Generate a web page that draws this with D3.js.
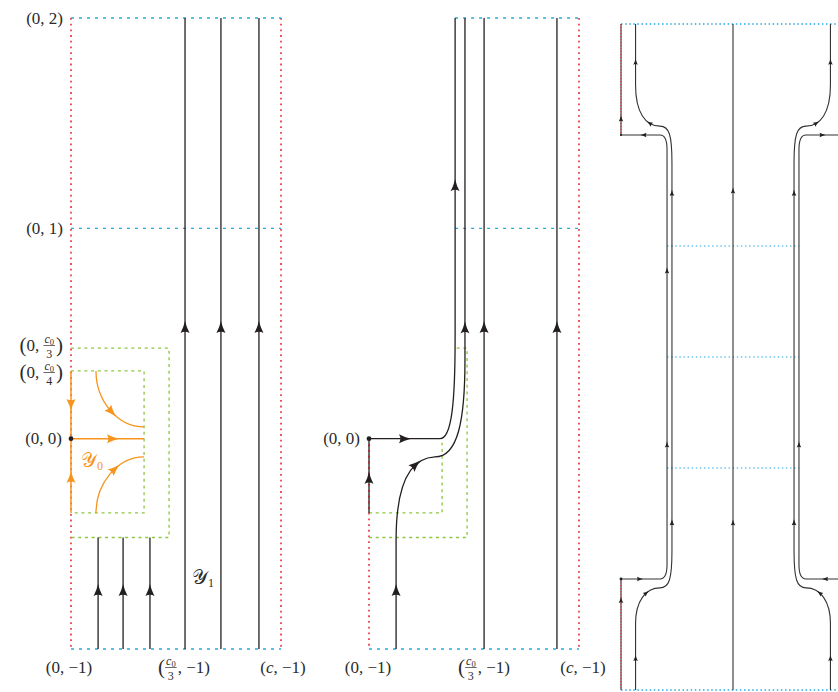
<!DOCTYPE html>
<html>
<head>
<meta charset="utf-8">
<script src="https://cdn.jsdelivr.net/npm/d3@7"></script>
<style>body{margin:0;background:#fff}</style>
</head>
<body>
<div id="fig"></div>
<script>
// ---- data (left and middle panels: x in units of c, y from -1 to 2) ----
var leftFullX  = [0.543, 0.714, 0.895];
var leftShortX = [0.129, 0.248, 0.376];
var fullArrowY  = 0.53;
var shortArrowY = -0.72;
var boxOuter = {x: 0.467, top: 0.43,  bottom: -0.47};
var boxInner = {x: 0.348, top: 0.322, bottom: -0.353};

var orangeUpper = [["M",0.119,0.322],["C",0.119,0.184,0.219,0.056,0.348,0.056]];
var orangeLower = [["M",0.119,-0.353],["C",0.119,-0.216,0.219,-0.087,0.348,-0.087]];
var orangeAxisV = [["M",0,0.322],["L",0,-0.353]];
var orangeAxisH = [["M",0,0],["L",0.348,0]];
// arrows: [path, x, y, reversed]
var orangeArrows = [["V",0,0.16,false],["V",0,-0.182,true],["H",0.2,0,false],["U",0.195,0.127,false],["D",0.195,-0.125,false]];

var midFullX = [0.548, 0.895];
var midPathA = [["M",0,0],["L",0.338,0],["C",0.395,0,0.41,0.184,0.41,0.469],["L",0.41,2]];
var midPathB = [["M",0.129,-1],["L",0.129,-0.482],["C",0.129,-0.197,0.205,-0.092,0.314,-0.087],
                ["C",0.424,-0.087,0.457,0.089,0.457,0.374],["L",0.457,2]];
var midSeg   = [["M",0,-0.353],["L",0,0]];
var midArrows = [["A",0.171,0],["A",0.41,1.205],["B",0.129,-0.72],["B",0.233,-0.135],["B",0.457,fullArrowY],["S",0,-0.187]];

// ---- data (right panel: x from -1 to 1, y from 0 to 6) ----
var rightGridY = [2, 3, 4];
var rightL1 = [["M",-1,0],["L",-1,1],["L",-0.652,1],["C",-0.615,1,-0.589,1.03,-0.589,1.13],["L",-0.589,4.87],
               ["C",-0.589,4.97,-0.615,5,-0.652,5],["L",-1,5],["L",-1,6]];
var rightL2 = [["M",-0.87,0],["L",-0.87,0.6],["C",-0.87,0.8,-0.78,0.92,-0.652,0.92],["C",-0.57,0.92,-0.545,1.0,-0.545,1.25],
               ["L",-0.545,4.75],["C",-0.545,5.0,-0.57,5.08,-0.652,5.08],["C",-0.78,5.08,-0.87,5.2,-0.87,5.45],["L",-0.87,6]];
var rightR1 = [["M",1,0],["L",1,1],["L",0.652,1],["C",0.615,1,0.589,1.03,0.589,1.13],["L",0.589,4.87],
               ["C",0.589,4.97,0.615,5,0.652,5],["L",1,5],["L",1,6]];
var rightR2 = [["M",0.87,0],["L",0.87,0.6],["C",0.87,0.8,0.78,0.92,0.652,0.92],["C",0.57,0.92,0.545,1.0,0.545,1.25],
               ["L",0.545,4.75],["C",0.545,5.0,0.57,5.08,0.652,5.08],["C",0.78,5.08,0.87,5.2,0.87,5.45],["L",0.87,6]];
var rightC  = [["M",0,0],["L",0,6]];
var rightArrows = [
  ["C",0,1.51],["C",0,4.5],
  ["L1",-0.83,1],["L1",-0.589,3.78],["L1",-0.589,2.21],["L1",-0.8,5],["L1",-1,0.81],["L1",-1,5.15],
  ["L2",-0.87,0.29],["L2",-0.77,0.87],["L2",-0.545,4.48],["L2",-0.545,1.51],["L2",-0.74,5.12],["L2",-0.87,5.66],
  ["R1",0.82,1],["R1",0.589,2.21],["R1",0.8,5],
  ["R2",0.87,0.29],["R2",0.77,0.87],["R2",0.545,4.48],["R2",0.545,1.51],["R2",0.74,5.12],["R2",0.87,5.66]
];

// ---- setup ----
var W = 838, H = 692;
var svg = d3.select("#fig").append("svg").attr("width", W).attr("height", H);

var yLM = d3.scaleLinear().domain([-1, 2]).range([649, 18]);
var xL  = d3.scaleLinear().domain([0, 1]).range([71, 281]);
var xM  = d3.scaleLinear().domain([0, 1]).range([369, 579]);
var xR  = d3.scaleLinear().domain([-1, 1]).range([621, 845]);
var yR  = d3.scaleLinear().domain([0, 6]).range([690, 24]);

var RED = "#ed2a32", BLUE = "#27aae1", GREEN = "#8dc63f", ORANGE = "#f7941d", INK = "#231f20";
var font = "Liberation Serif";

function toPath(segs, sx, sy) {
  var p = d3.path();
  segs.forEach(function(s) {
    if (s[0] === "M") p.moveTo(sx(s[1]), sy(s[2]));
    else if (s[0] === "L") p.lineTo(sx(s[1]), sy(s[2]));
    else p.bezierCurveTo(sx(s[1]), sy(s[2]), sx(s[3]), sy(s[4]), sx(s[5]), sy(s[6]));
  });
  return p.toString();
}

function dotted(x1, y1, x2, y2, color, dash, w) {
  svg.append("line").attr("x1", x1).attr("y1", y1).attr("x2", x2).attr("y2", y2)
    .attr("stroke", color).attr("stroke-width", w || 1.3).attr("stroke-dasharray", dash);
}
function poly(pts, color, dash) {
  svg.append("path").attr("d", d3.line()(pts)).attr("fill", "none")
    .attr("stroke", color).attr("stroke-width", 1.3).attr("stroke-dasharray", dash);
}

function drawPath(segs, sx, sy, color, w) {
  return svg.append("path").attr("d", toPath(segs, sx, sy)).attr("fill", "none")
    .attr("stroke", color).attr("stroke-width", w);
}

function arrowAt(node, px, py, len, wid, color, rev) {
  var L = node.getTotalLength(), best = 0, bd = Infinity;
  for (var l = 0; l <= L; l += 0.5) {
    var p = node.getPointAtLength(l), d = (p.x - px) * (p.x - px) + (p.y - py) * (p.y - py);
    if (d < bd) { bd = d; best = l; }
  }
  var a = node.getPointAtLength(Math.max(0, best - 1)), b = node.getPointAtLength(Math.min(L, best + 1));
  var c = node.getPointAtLength(best);
  var ang = Math.atan2(b.y - a.y, b.x - a.x) * 180 / Math.PI + (rev ? 180 : 0);
  var h = len / 2, k = wid / 2;
  svg.append("path")
    .attr("d", "M" + h + ",0 Q" + (-h * 0.1) + "," + (-k * 0.35) + " " + (-h) + "," + (-k) +
               " Q" + (-h * 0.55) + ",0 " + (-h) + "," + k + " Q" + (-h * 0.1) + "," + (k * 0.35) + " " + h + ",0Z")
    .attr("fill", color)
    .attr("transform", "translate(" + c.x + "," + c.y + ") rotate(" + ang + ")");
}

// rich label: parts are strings, {t}, {sub} or {den} (fraction c0/den)
function label(parts, x, y, anchor, size, color) {
  size = size || 17;
  var g = svg.append("g").attr("fill", color || "#2b2b2b");
  var cx = 0;
  function txt() { return g.append("text").style("font-family", font).style("white-space", "pre"); }
  parts.forEach(function(p) {
    if (typeof p === "string" || p.t !== undefined) {
      var t = txt().attr("x", cx).attr("y", p.dy || 0).attr("font-size", p.size || size)
        .attr("font-style", p.it ? "italic" : null).text(typeof p === "string" ? p : p.t);
      cx += t.node().getComputedTextLength();
    } else if (p.sub) {
      var t2 = txt().attr("x", cx).attr("y", p.dy).attr("font-size", p.size).text(p.sub);
      cx += t2.node().getComputedTextLength();
    } else {
      var n = txt().attr("y", -8.5).attr("font-size", 12);
      n.append("tspan").attr("font-style", "italic").text("c");
      n.append("tspan").attr("font-size", 8.5).attr("dy", 2).text("0");
      var d = txt().attr("y", 6.5).attr("font-size", 12).text(p.den);
      var wn = n.node().getComputedTextLength(), wd = d.node().getComputedTextLength();
      var w = Math.max(wn, wd) + 2;
      n.attr("x", cx + (w - wn) / 2);
      d.attr("x", cx + (w - wd) / 2);
      g.append("line").attr("x1", cx).attr("x2", cx + w).attr("y1", -5.5).attr("y2", -5.5)
        .attr("stroke", color || "#2b2b2b").attr("stroke-width", 0.7);
      cx += w + 1;
    }
  });
  var off = anchor === "end" ? -cx : anchor === "middle" ? -cx / 2 : 0;
  g.attr("transform", "translate(" + (x + off) + "," + y + ")");
}

// ================= LEFT PANEL =================
dotted(xL(0), yLM(2), xL(0), yLM(-1), RED, "1.8,3.9", 1.6);
dotted(xL(1), yLM(2), xL(1), yLM(-1), RED, "1.8,3.9", 1.6);
[2, 1, -1].forEach(function(v) { dotted(xL(0), yLM(v), xL(1), yLM(v), BLUE, "3,5", 1.3); });
poly([[xL(0), yLM(boxOuter.top)], [xL(boxOuter.x), yLM(boxOuter.top)], [xL(boxOuter.x), yLM(boxOuter.bottom)], [xL(0), yLM(boxOuter.bottom)]], GREEN, "3,3.7");
poly([[xL(0), yLM(boxInner.top)], [xL(boxInner.x), yLM(boxInner.top)], [xL(boxInner.x), yLM(boxInner.bottom)], [xL(0), yLM(boxInner.bottom)]], GREEN, "3,3.7");

leftFullX.forEach(function(x) {
  var n = drawPath([["M", x, -1], ["L", x, 2]], xL, yLM, INK, 1.3).node();
  arrowAt(n, xL(x), yLM(fullArrowY), 12, 9, INK);
});
leftShortX.forEach(function(x) {
  var n = drawPath([["M", x, -1], ["L", x, boxOuter.bottom]], xL, yLM, INK, 1.3).node();
  arrowAt(n, xL(x), yLM(shortArrowY), 12, 9, INK);
});

var orangeNodes = {
  V: drawPath(orangeAxisV, xL, yLM, ORANGE, 1.5).node(),
  H: drawPath(orangeAxisH, xL, yLM, ORANGE, 1.5).node(),
  U: drawPath(orangeUpper, xL, yLM, ORANGE, 1.3).node(),
  D: drawPath(orangeLower, xL, yLM, ORANGE, 1.3).node()
};
orangeArrows.forEach(function(a) { arrowAt(orangeNodes[a[0]], xL(a[1]), yLM(a[2]), 12, 9, ORANGE, a[3]); });
svg.append("circle").attr("cx", xL(0)).attr("cy", yLM(0)).attr("r", 2.4).attr("fill", INK);

// ================= MIDDLE PANEL =================
dotted(xM(0), yLM(0), xM(0), yLM(-1), RED, "1.8,3.9", 1.6);
dotted(xM(1), yLM(2), xM(1), yLM(-1), RED, "1.8,3.9", 1.6);
dotted(xM(0.41), yLM(2), xM(1), yLM(2), BLUE, "3,5", 1.3);
dotted(xM(0.41), yLM(1), xM(1), yLM(1), BLUE, "3,5", 1.3);
dotted(xM(0), yLM(-1), xM(1), yLM(-1), BLUE, "3,5", 1.3);
poly([[xM(0), yLM(boxInner.bottom)], [xM(boxInner.x), yLM(boxInner.bottom)], [xM(boxInner.x), yLM(-0.02)]], GREEN, "3,3.7");
poly([[xM(0), yLM(boxOuter.bottom)], [xM(boxOuter.x), yLM(boxOuter.bottom)], [xM(boxOuter.x), yLM(boxOuter.top)], [xM(0.41), yLM(boxOuter.top)]], GREEN, "3,3.7");

midFullX.forEach(function(x) {
  var n = drawPath([["M", x, -1], ["L", x, 2]], xM, yLM, INK, 1.3).node();
  arrowAt(n, xM(x), yLM(fullArrowY), 12, 9, INK);
});
var midNodes = {
  A: drawPath(midPathA, xM, yLM, INK, 1.3).node(),
  B: drawPath(midPathB, xM, yLM, INK, 1.3).node(),
  S: drawPath(midSeg, xM, yLM, INK, 1.3).node()
};
dotted(xM(0), yLM(0), xM(0), yLM(boxInner.bottom), RED, "1.8,3.9", 1.1);
midArrows.forEach(function(a) { arrowAt(midNodes[a[0]], xM(a[1]), yLM(a[2]), 12, 9, INK); });
svg.append("circle").attr("cx", xM(0)).attr("cy", yLM(0)).attr("r", 2.4).attr("fill", INK);

// ================= RIGHT PANEL =================
dotted(xR(-1), yR(6), W, yR(6), BLUE, "1.5,2.6", 1.3);
dotted(xR(-1), yR(0), W, yR(0), BLUE, "1.5,2.6", 1.3);
rightGridY.forEach(function(v) { dotted(xR(-0.589), yR(v), xR(0.589), yR(v), BLUE, "1.5,2.6", 1.2); });

var RINK = "#333";
var rightNodes = {
  C:  drawPath(rightC,  xR, yR, RINK, 1.1).node(),
  L1: drawPath(rightL1, xR, yR, RINK, 1.1).node(),
  L2: drawPath(rightL2, xR, yR, RINK, 1.1).node(),
  R1: drawPath(rightR1, xR, yR, RINK, 1.1).node(),
  R2: drawPath(rightR2, xR, yR, RINK, 1.1).node()
};
dotted(xR(-1), yR(6), xR(-1), yR(5), RED, "1.2,1.8", 1.1);
dotted(xR(-1), yR(1), xR(-1), yR(0), RED, "1.2,1.8", 1.1);
rightArrows.forEach(function(a) { arrowAt(rightNodes[a[0]], xR(a[1]), yR(a[2]), 6, 4.6, INK); });
svg.append("circle").attr("cx", xR(-1)).attr("cy", yR(1)).attr("r", 1.4).attr("fill", INK);
svg.append("circle").attr("cx", xR(-1)).attr("cy", yR(5)).attr("r", 1.1).attr("fill", INK);

// ================= LABELS =================
label(["(0, 2)"], 63, 24, "end");
label(["(0, 1)"], 63, 234, "end");
label([{t: "(", size: 21, dy: 1}, "0,\u00A0", {den: "3"}, {t: ")", size: 21, dy: 1}], 63, 351, "end");
label([{t: "(", size: 21, dy: 1}, "0,\u00A0", {den: "4"}, {t: ")", size: 21, dy: 1}], 63, 378, "end");
label(["(0, 0)"], 62, 444, "end");
label(["(0, 0)"], 360, 444, "end");

label(["(0, \u22121)"], 69, 673, "middle");
label([{t: "(", size: 21, dy: 1}, {den: "3"}, ", \u22121)"], 184, 673, "middle");
label(["(", {t: "c", it: true}, ", \u22121)"], 283, 673, "middle");
label(["(0, \u22121)"], 368, 673, "middle");
label([{t: "(", size: 21, dy: 1}, {den: "3"}, ", \u22121)"], 484, 673, "middle");
label(["(", {t: "c", it: true}, ", \u22121)"], 583, 673, "middle");

label(["\uD835\uDCB4", {sub: "0", size: 12, dy: 3}], 81, 467, "start", 20, ORANGE);
label(["\uD835\uDCB4", {sub: "1", size: 12, dy: 3}], 192, 584, "start", 20);
</script>
</body>
</html>
